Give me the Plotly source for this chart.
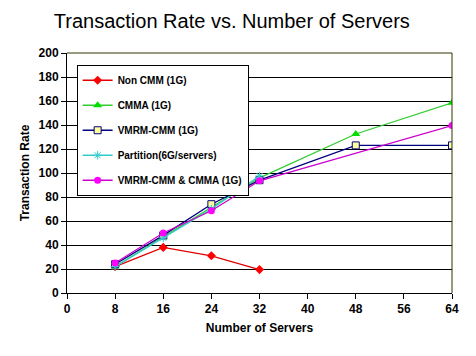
import plotly.graph_objects as go

non_cmm_x = [8, 16, 24, 32]
non_cmm = [22, 38, 31, 19.5]
cmma_x = [8, 16, 24, 32, 48, 64]
cmma = [22, 46.5, 71, 96, 132.5, 158.5]
vmrm_x = [8, 16, 24, 32, 48, 64]
vmrm = [24, 48, 74, 94, 123, 123]
part_x = [8, 16, 24, 32]
partition = [22, 46, 70, 97.5]
both_x = [8, 16, 24, 32, 64]
both = [25, 50, 68.5, 93.5, 139.5]
x_ticks = [0, 8, 16, 24, 32, 40, 48, 56, 64]
y_ticks = [0, 20, 40, 60, 80, 100, 120, 140, 160, 180, 200]

FONT = "Liberation Sans, Arial, sans-serif"

fig = go.Figure()
specs = [
    ("Non CMM (1G)", non_cmm_x, non_cmm, "#E00000", dict(symbol="diamond", size=7, color="#FF0000")),
    ("CMMA (1G)", cmma_x, cmma, "#33CC33", dict(symbol="triangle-up", size=8, color="#00E000")),
    ("VMRM-CMM (1G)", vmrm_x, vmrm, "#000080", dict(symbol="square", size=7, color="#FFFF99", line=dict(color="#000080", width=1))),
    ("Partition(6G/servers)", part_x, partition, "#33CCCC", dict(symbol="asterisk-open", size=7, color="#33CCCC", line=dict(color="#33CCCC", width=1))),
    ("VMRM-CMM & CMMA (1G)", both_x, both, "#CC00CC", dict(symbol="circle", size=7, color="#FF00FF")),
]
for i, (name, xs, ys, lc, mk) in enumerate(specs):
    fig.add_trace(go.Scatter(x=xs, y=ys, name=name, mode="lines+markers",
                             line=dict(color=lc, width=1.3), marker=mk,
                             legendgroup=f"g{i}"))

fig.update_layout(
    width=476, height=356,
    margin=dict(l=67, r=24, t=53, b=63, autoexpand=False),
    paper_bgcolor="white", plot_bgcolor="white",
    font=dict(family=FONT, color="black"),
    title=dict(text="Transaction Rate vs. Number of Servers", x=0.487, xanchor="center",
               y=0.94, yanchor="middle", yref="container", font=dict(size=20, family=FONT)),
    showlegend=True,
    legend=dict(x=0.025, y=0.951, xanchor="left", yanchor="top",
                bgcolor="white", bordercolor="black", borderwidth=1,
                font=dict(size=10, family=FONT, weight="bold"),
                tracegroupgap=6, itemwidth=30),
)
fig.update_xaxes(range=[0, 64], tickvals=x_ticks, showgrid=False, zeroline=False,
                 automargin=False,
                 showline=True, linecolor="black", linewidth=1,
                 ticks="outside", ticklen=5, tickcolor="black",
                 tickfont=dict(size=12, family=FONT, weight="bold"),
                 title=dict(text="Number of Servers", font=dict(size=12, family=FONT, weight="bold"), standoff=8))
fig.update_yaxes(range=[0, 200], tickvals=y_ticks, showgrid=True, gridcolor="black", gridwidth=1,
                 automargin=False,
                 zeroline=False, showline=True, linecolor="black", linewidth=1,
                 ticks="outside", ticklen=5, tickcolor="black",
                 tickfont=dict(size=12, family=FONT, weight="bold"),
                 title=dict(text="Transaction Rate", font=dict(size=12, family=FONT, weight="bold"), standoff=6))
fig.add_shape(type="line", xref="paper", yref="paper", x0=0, x1=1, y0=1, y1=1,
              line=dict(color="#333300", width=1))
fig.add_shape(type="line", xref="paper", yref="paper", x0=1, x1=1, y0=0, y1=1,
              line=dict(color="#333300", width=1))

fig.write_html("out.html", config={"displayModeBar": False},
               post_script="document.body.style.margin='0';document.body.style.overflow='hidden';")
